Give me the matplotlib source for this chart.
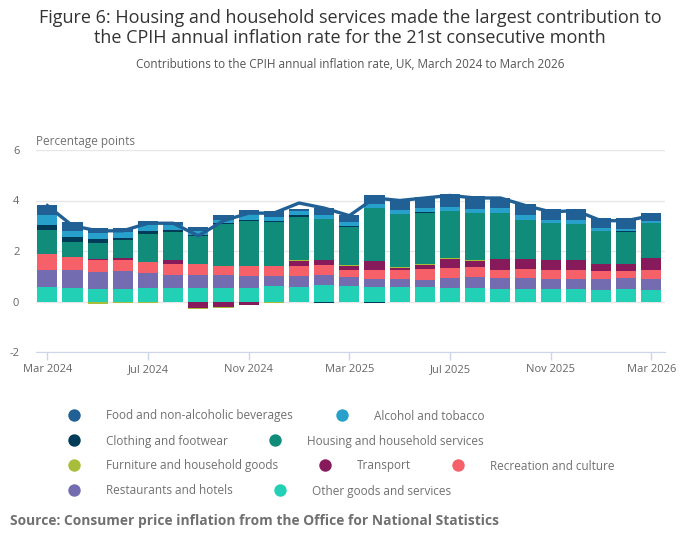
import numpy as np
import matplotlib
matplotlib.use("Agg")
import matplotlib.pyplot as plt

plt.rcParams["font.family"] = ["Open Sans", "DejaVu Sans"]

# ── data ──────────────────────────────────────────────────────────────────────
months = ["Mar 2024", "Apr 2024", "May 2024", "Jun 2024", "Jul 2024", "Aug 2024",
          "Sep 2024", "Oct 2024", "Nov 2024", "Dec 2024", "Jan 2025", "Feb 2025",
          "Mar 2025", "Apr 2025", "May 2025", "Jun 2025", "Jul 2025", "Aug 2025",
          "Sep 2025", "Oct 2025", "Nov 2025", "Dec 2025", "Jan 2026", "Feb 2026",
          "Mar 2026"]

food = [0.40, 0.32, 0.20, 0.16, 0.16, 0.12, 0.14, 0.20, 0.16, 0.22, 0.10, 0.30, 0.28,
        0.33, 0.40, 0.44, 0.53, 0.54, 0.40, 0.44, 0.44, 0.44, 0.36, 0.40, 0.32]
alcohol = [0.40, 0.24, 0.24, 0.24, 0.24, 0.20, 0.16, 0.13, 0.24, 0.16, 0.16, 0.16, 0.16,
           0.16, 0.16, 0.16, 0.16, 0.16, 0.20, 0.20, 0.12, 0.16, 0.12, 0.08, 0.08]
clothing = [0.20, 0.20, 0.16, 0.08, 0.12, 0.08, 0.04, 0.05, 0.05, 0.04, 0.07, -0.05, 0.05,
            -0.04, 0.00, 0.04, 0.00, 0.00, 0.00, 0.00, -0.03, 0.00, 0.00, 0.04, -0.03]
housing = [0.95, 0.60, 0.64, 0.72, 1.11, 1.11, 1.11, 1.64, 1.77, 1.76, 1.70, 1.60, 1.51,
           2.10, 2.07, 1.99, 1.83, 1.83, 1.79, 1.51, 1.43, 1.39, 1.31, 1.27, 1.35]
furniture = [-0.03, -0.02, -0.08, -0.06, -0.06, -0.02, -0.04, -0.04, 0.00, -0.04, 0.03, 0.00, 0.04,
             0.00, 0.04, 0.04, 0.04, 0.04, 0.00, 0.00, 0.00, 0.00, 0.00, 0.00, 0.00]
transport = [0.00, 0.00, 0.04, 0.08, 0.00, 0.16, -0.24, -0.20, -0.13, -0.03, 0.20, 0.20, 0.16,
             0.36, 0.08, 0.16, 0.36, 0.24, 0.44, 0.40, 0.40, 0.40, 0.28, 0.28, 0.48]
recreation = [0.64, 0.52, 0.48, 0.44, 0.44, 0.44, 0.44, 0.36, 0.40, 0.40, 0.40, 0.40, 0.28,
              0.36, 0.36, 0.44, 0.40, 0.40, 0.32, 0.36, 0.36, 0.36, 0.32, 0.28, 0.36]
restaurants = [0.68, 0.72, 0.68, 0.72, 0.60, 0.52, 0.52, 0.52, 0.48, 0.40, 0.44, 0.40, 0.36,
               0.32, 0.32, 0.28, 0.40, 0.44, 0.44, 0.44, 0.40, 0.40, 0.44, 0.44, 0.44]
other = [0.57, 0.53, 0.49, 0.49, 0.53, 0.53, 0.53, 0.53, 0.53, 0.60, 0.58, 0.65, 0.60,
         0.58, 0.58, 0.58, 0.54, 0.54, 0.50, 0.50, 0.50, 0.50, 0.46, 0.50, 0.46]

cpih = [3.8, 3.0, 2.8, 2.8, 3.1, 3.1, 2.6, 3.2, 3.5, 3.5, 3.9, 3.7, 3.4,
        4.1, 4.0, 4.1, 4.2, 4.1, 4.1, 3.8, 3.55, 3.6, 3.2, 3.2, 3.4]

series_names = ["Food and non-alcoholic beverages", "Alcohol and tobacco",
                "Clothing and footwear", "Housing and household services",
                "Furniture and household goods", "Transport", "Recreation and culture",
                "Restaurants and hotels", "Other goods and services"]
series_vals = [food, alcohol, clothing, housing, furniture, transport, recreation,
               restaurants, other]
colors = ["#206095", "#27a0cc", "#003c57", "#118c7b", "#a8bd3a", "#871a5b",
          "#f66068", "#746cb1", "#22d0b6"]

tick_idx = [0, 4, 8, 12, 16, 20, 24]

# ── figure ────────────────────────────────────────────────────────────────────
W, H = 700, 549
fig = plt.figure(figsize=(W / 100, H / 100), dpi=100)
ax = fig.add_axes([36 / W, 1 - 352 / H, (665 - 36) / W, (352 - 150) / H])

x = np.arange(len(months))
pos_base = np.zeros(len(months))
neg_base = np.zeros(len(months))
# last series sits nearest zero
for vals, col in zip(series_vals[::-1], colors[::-1]):
    v = np.array(vals)
    bottom = np.where(v >= 0, pos_base, neg_base)
    ax.bar(x, v, 0.8, bottom=bottom, color=col, linewidth=0, zorder=2)
    pos_base += np.where(v >= 0, v, 0)
    neg_base += np.where(v < 0, v, 0)

ax.plot(x, cpih, color="#206095", lw=2.4, zorder=3, solid_joinstyle="round")

ax.set_xlim(-0.45, 24.54)
ax.set_ylim(-2, 6)
ax.set_yticks([-2, 0, 2, 4, 6])
ax.set_yticklabels(["-2", "0", "2", "4", "6"])
ax.set_xticks(tick_idx)
ax.set_xticklabels([months[i] for i in tick_idx])
ax.grid(axis="y", color="#e6e6e6", lw=1, zorder=0)
ax.set_axisbelow(True)
for s in ["top", "right", "left"]:
    ax.spines[s].set_visible(False)
ax.spines["bottom"].set_color("#ccd6eb")
ax.tick_params(axis="y", length=0, pad=12, labelsize=8, labelcolor="#666666")
ax.tick_params(axis="x", length=6, width=1, color="#ccd6eb", pad=3,
               labelsize=8, labelcolor="#666666")

# ── text ─────────────────────────────────────────────────────────────────────
fig.text(0.5, 1 - 28 / H,
         "Figure 6: Housing and household services made the largest contribution to\n"
         "the CPIH annual inflation rate for the 21st consecutive month",
         ha="center", va="center", fontsize=13, color="#333333", linespacing=1.15)
fig.text(0.5, 1 - 64 / H,
         "Contributions to the CPIH annual inflation rate, UK, March 2024 to March 2026",
         ha="center", va="center", fontsize=8.5, color="#555555")
fig.text(36 / W, 1 - 142 / H, "Percentage points", ha="left", va="center",
         fontsize=8.5, color="#707070")
fig.text(10 / W, 1 - 521 / H,
         "Source: Consumer price inflation from the Office for National Statistics",
         ha="left", va="center", fontsize=9.9, fontweight="bold", color="#707070")

# ── legend laid out like the original flow legend ────────────────────────────
leg = fig.add_axes([0, 0, 1, 1])
leg.set_xlim(0, W)
leg.set_ylim(H, 0)
leg.axis("off")
leg_pos = [(74, 415), (342, 415), (74, 440), (275, 440), (74, 465), (325, 465),
           (458, 465), (74, 490), (280, 490)]
for (lx, ly), name, col in zip(leg_pos, series_names, colors):
    leg.scatter([lx], [ly], s=80, color=col, linewidths=0)
    leg.text(lx + 32, ly + 1, name, ha="left", va="center", fontsize=8.5, color="#707070")

fig.savefig("out.png", dpi=100)
